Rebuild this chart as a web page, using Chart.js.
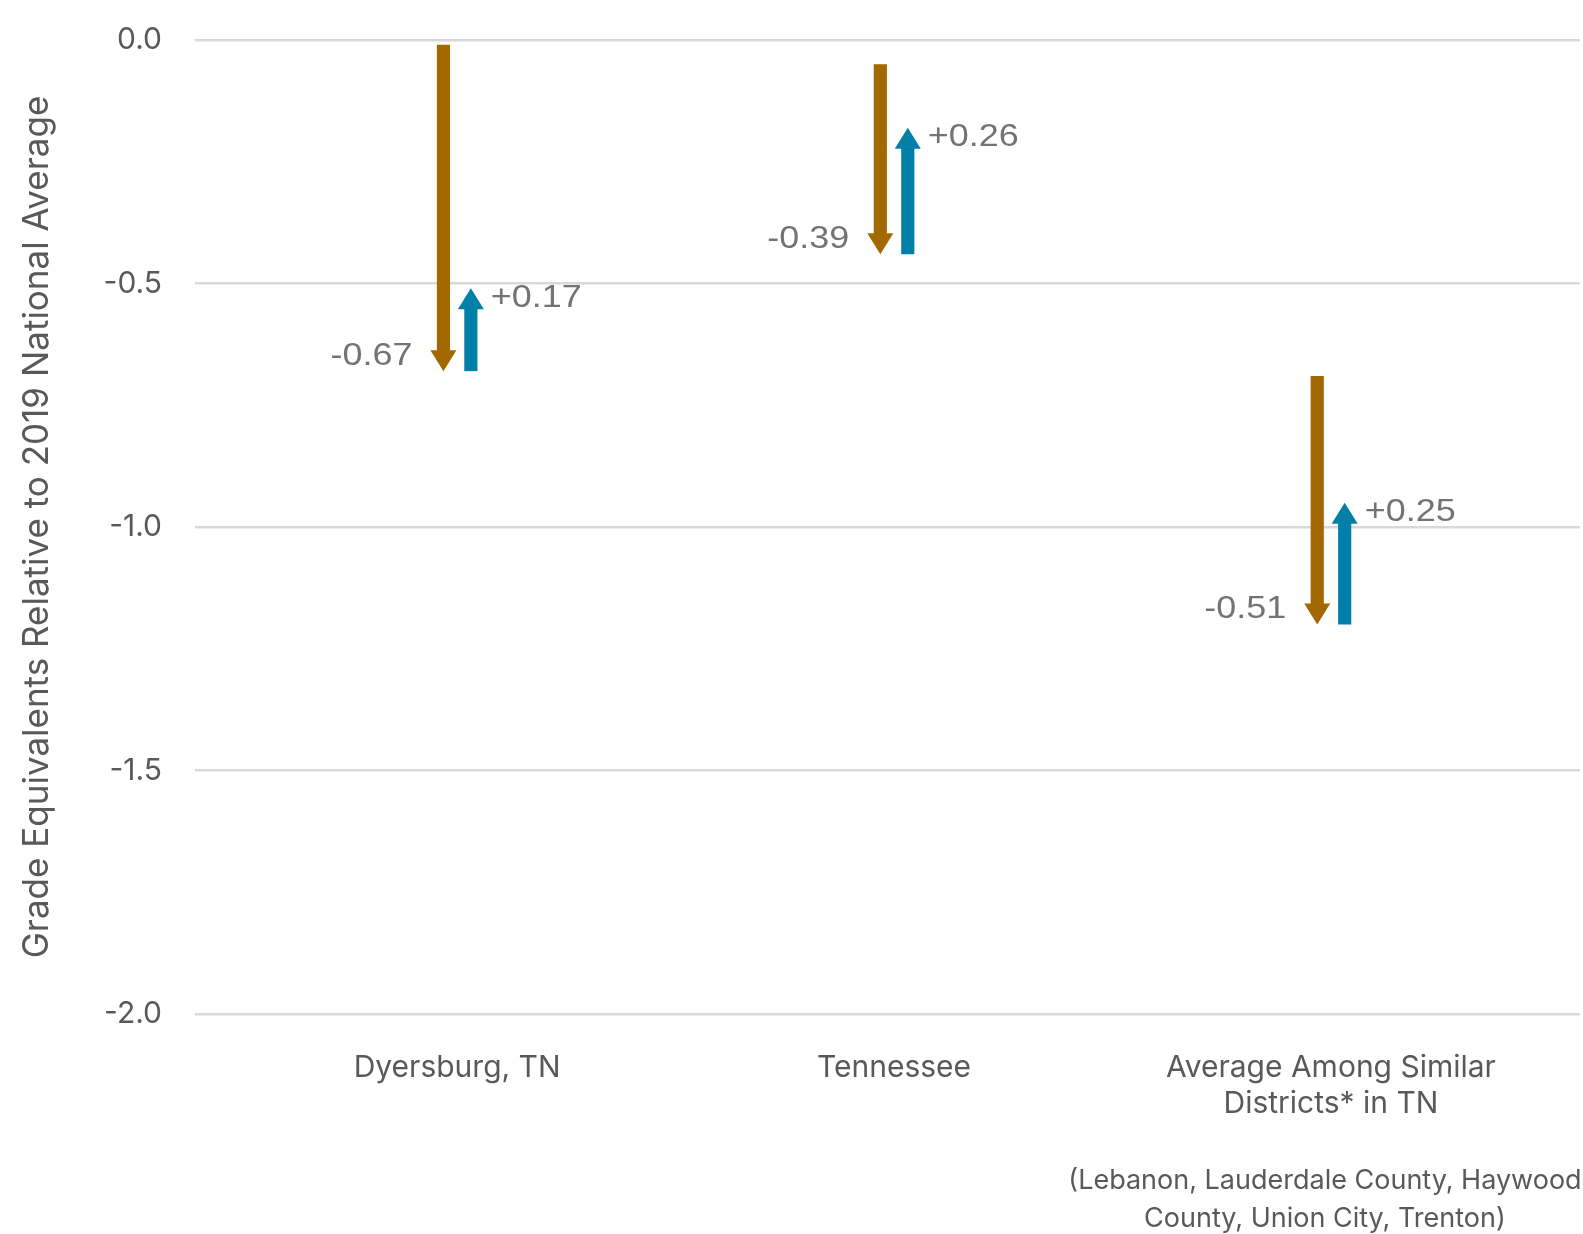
<!DOCTYPE html>
<html>
<head>
<meta charset="utf-8">
<script src="https://cdn.jsdelivr.net/npm/chart.js@4.4.1/dist/chart.umd.min.js"></script>
<style>
  html, body { margin: 0; padding: 0; background: #fff; }
  #contenedor { width: 1583px; height: 1234px; position: relative; }
</style>
</head>
<body>
<div id="contenedor"><canvas id="graficaFlechas"></canvas></div>
<script>
// Categorias (posiciones 0, 1, 2 en el eje x)
const categorias = ['Dyersburg, TN', 'Tennessee', ['Average Among Similar', 'Districts* in TN']];
const nota = ['(Lebanon, Lauderdale County, Haywood', 'County, Union City, Trenton)'];

// Valores (grados relativos al promedio nacional 2019)
const inicio = [-0.01, -0.05, -0.69];      // antes de la caida
const minimo = [-0.68, -0.44, -1.20];      // punto mas bajo
const recuperado = [-0.51, -0.18, -0.95];  // despues de la recuperacion
const etiquetasCaida = ['-0.67', '-0.39', '-0.51'];
const etiquetasSubida = ['+0.17', '+0.26', '+0.25'];
const ticksY = [0, -0.5, -1, -1.5, -2];

const CAFE = '#A36800';
const AZUL = '#007FA8';
const GRIS = '#595959';
const PUNTA_ANCHO = 13;  // media anchura de la punta
const PUNTA_ALTO = 21;

// Dibuja las puntas de flecha y las etiquetas de cada barra
const flechas = {
    id: 'flechas',
    afterDatasetsUpdate(chart) {
        const y = chart.scales.y;
        chart.data.datasets.forEach((ds, i) => {
            chart.getDatasetMeta(i).data.forEach((el, j) => {
                const [a, b] = ds.data[j].y;
                const pa = y.getPixelForValue(a), pb = y.getPixelForValue(b);
                const dir = pb > pa ? 1 : -1;
                el.base = pa;
                el.y = pb - dir * (PUNTA_ALTO - 1); // el cuerpo termina donde empieza la punta
            });
        });
    },
    afterDatasetsDraw(chart) {
        const ctx = chart.ctx, y = chart.scales.y;
        chart.data.datasets.forEach((ds, i) => {
            chart.getDatasetMeta(i).data.forEach((el, j) => {
                const [a, b] = ds.data[j].y;
                const pa = y.getPixelForValue(a), pb = y.getPixelForValue(b);
                const dir = pb > pa ? 1 : -1;
                ctx.save();
                ctx.fillStyle = ds.backgroundColor;
                ctx.beginPath();
                ctx.moveTo(el.x - PUNTA_ANCHO, pb - dir * PUNTA_ALTO);
                ctx.lineTo(el.x + PUNTA_ANCHO, pb - dir * PUNTA_ALTO);
                ctx.lineTo(el.x, pb);
                ctx.closePath();
                ctx.fill();

                // texto un poco ensanchado, como en el original
                ctx.font = '31px "Liberation Sans", Arial, sans-serif';
                ctx.fillStyle = '#737373';
                ctx.textBaseline = 'middle';
                if (dir > 0) {
                    ctx.translate(el.x - 31, pb - 15);
                    ctx.scale(1.16, 1);
                    ctx.textAlign = 'right';
                } else {
                    ctx.translate(el.x + 20, pb + 10);
                    ctx.scale(1.16, 1);
                    ctx.textAlign = 'left';
                }
                ctx.fillText(ds.etiquetas[j], 0, 0);
                ctx.restore();
            });
        });
    }
};

// Nota al pie debajo de la tercera categoria
const notaPie = {
    id: 'notaPie',
    afterDraw(chart) {
        const ctx = chart.ctx;
        const x = chart.scales.x.getPixelForValue(2) - 6;
        const base = chart.chartArea.bottom;
        ctx.save();
        ctx.font = '27px Inter, "Noto Sans", sans-serif';
        ctx.fillStyle = GRIS;
        ctx.textAlign = 'center';
        ctx.textBaseline = 'middle';
        nota.forEach((linea, k) => ctx.fillText(linea, x, base + 167 + k * 38));
        ctx.restore();
    }
};

document.addEventListener('DOMContentLoaded', function() {
    const ctxFlechas = document.getElementById('graficaFlechas');

    new Chart(ctxFlechas, {
        type: 'bar',
        data: {
            datasets: [{
                label: 'Caida',
                data: inicio.map((v, i) => ({ x: i, y: [v, minimo[i]] })),
                etiquetas: etiquetasCaida,
                backgroundColor: CAFE,
                borderWidth: 0
            }, {
                label: 'Recuperacion',
                data: minimo.map((v, i) => ({ x: i, y: [v, recuperado[i]] })),
                etiquetas: etiquetasSubida,
                backgroundColor: AZUL,
                borderWidth: 0
            }]
        },
        options: {
            responsive: true,
            maintainAspectRatio: false,
            animation: false,
            categoryPercentage: 0.1256,
            barPercentage: 0.48,
            layout: { padding: { top: 40, right: 3, left: 0, bottom: 0 } },
            plugins: {
                legend: { display: false },
                tooltip: { enabled: false }
            },
            scales: {
                x: {
                    type: 'linear',
                    min: -0.6,
                    max: 2.57,
                    offset: false,
                    afterBuildTicks: s => { s.ticks = categorias.map((c, i) => ({ value: i })); },
                    afterFit: s => { s.height = 220; },
                    grid: { display: false, offset: false, drawTicks: false },
                    border: { display: false },
                    ticks: {
                        padding: 36,
                        color: GRIS,
                        font: { family: 'Inter', size: 30, lineHeight: 1.2 },
                        maxRotation: 0,
                        autoSkip: false,
                        callback: v => categorias[v]
                    }
                },
                y: {
                    min: -2,
                    max: 0,
                    afterBuildTicks: s => { s.ticks = ticksY.map(v => ({ value: v })); },
                    afterFit: s => { s.width = 195; s.paddingTop = 0; s.paddingBottom = 0; },
                    grid: { color: '#d9d9d9', lineWidth: 2.5, drawTicks: false },
                    border: { display: false },
                    ticks: {
                        padding: 33,
                        color: GRIS,
                        font: { family: 'Inter', size: 30 },
                        callback: v => v.toFixed(1)
                    },
                    title: {
                        display: true,
                        text: 'Grade Equivalents Relative to 2019 National Average',
                        color: GRIS,
                        font: { family: 'Inter', size: 35 },
                        padding: 16
                    }
                }
            }
        },
        plugins: [flechas, notaPie]
    });
});
</script>
</body>
</html>
